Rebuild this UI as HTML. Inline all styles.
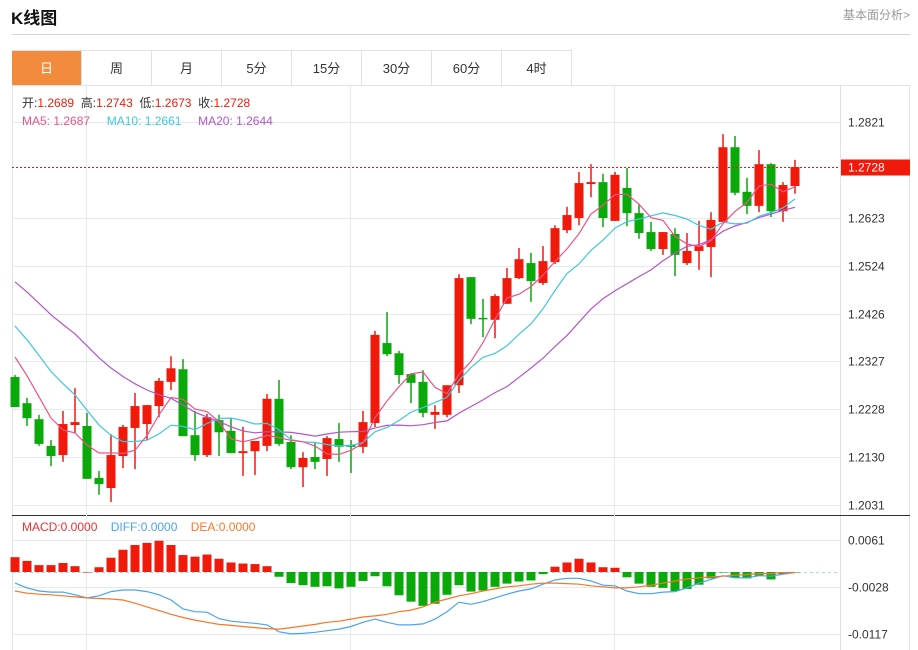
<!DOCTYPE html>
<html><head><meta charset="utf-8"><style>
body{margin:0;width:918px;height:650px;background:#fff;font-family:"Liberation Sans","Noto Sans CJK SC",sans-serif;overflow:hidden;position:relative}
.title{position:absolute;left:11px;top:4px;font-size:17px;font-weight:bold;color:#111}
.more{position:absolute;right:8px;top:6px;font-size:12px;color:#999}
.hr{position:absolute;left:12px;top:34px;width:898px;height:1px;background:#d5d5d5}
.tabs{position:absolute;left:12px;top:50px;height:35px;display:flex;border-top:1px solid #dde2e8}
.tab{width:69px;height:35px;border-right:1px solid #dde2e8;text-align:center;line-height:35px;font-size:13px;color:#333}
.tab.on{background:#f28c3c;color:#fff}
#chart text{white-space:pre}
</style></head><body>
<div class="title">K线图</div>
<div class="more">基本面分析&gt;</div>
<div class="hr"></div>
<div class="tabs">
<div class="tab on">日</div>
<div class="tab">周</div>
<div class="tab">月</div>
<div class="tab">5分</div>
<div class="tab">15分</div>
<div class="tab">30分</div>
<div class="tab">60分</div>
<div class="tab">4时</div>
</div>
<svg id="chart" width="918" height="650" style="position:absolute;left:0;top:0"></svg>
<script>
const opens=[1.2295,1.2241,1.2208,1.2153,1.2134,1.2196,1.2194,1.2087,1.2066,1.2132,1.2190,1.2198,1.2235,1.2285,1.2311,1.2175,1.2134,1.2206,1.2184,1.2138,1.2142,1.2153,1.2250,1.2161,1.2109,1.2130,1.2126,1.2167,1.2155,1.2151,1.2200,1.2365,1.2344,1.2301,1.2285,1.2217,1.2217,1.2278,1.2501,1.2417,1.2413,1.2446,1.2499,1.2530,1.2489,1.2532,1.2598,1.2623,1.2693,1.2697,1.2617,1.2685,1.2633,1.2594,1.2559,1.2590,1.2530,1.2555,1.2563,1.2615,1.2769,1.2677,1.2648,1.2734,1.2637,1.2689];
const highs=[1.2299,1.2252,1.2217,1.2165,1.2225,1.2272,1.2221,1.2101,1.2177,1.2196,1.2262,1.2237,1.2293,1.2338,1.2332,1.2225,1.2219,1.2217,1.2210,1.2192,1.2163,1.2260,1.2289,1.2175,1.2140,1.2161,1.2173,1.2200,1.2165,1.2225,1.2390,1.2429,1.2349,1.2303,1.2309,1.2237,1.2278,1.2507,1.2501,1.2456,1.2466,1.2520,1.2561,1.2551,1.2565,1.2608,1.2646,1.2718,1.2734,1.2714,1.2718,1.2726,1.2652,1.2615,1.2594,1.2602,1.2592,1.2617,1.2635,1.2796,1.2792,1.2706,1.2763,1.2736,1.2697,1.2743];
const lows=[1.2233,1.2194,1.2153,1.2111,1.2120,1.2179,1.2085,1.2052,1.2037,1.2107,1.2105,1.2165,1.2212,1.2268,1.2173,1.2122,1.2130,1.2132,1.2138,1.2091,1.2093,1.2142,1.2153,1.2105,1.2068,1.2105,1.2091,1.2120,1.2097,1.2138,1.2192,1.2338,1.2281,1.2241,1.2212,1.2188,1.2212,1.2262,1.2404,1.2377,1.2375,1.2446,1.2497,1.2450,1.2485,1.2528,1.2592,1.2608,1.2666,1.2604,1.2617,1.2606,1.2580,1.2555,1.2547,1.2503,1.2526,1.2516,1.2501,1.2615,1.2670,1.2631,1.2635,1.2625,1.2615,1.2673];
const closes=[1.2233,1.2210,1.2157,1.2132,1.2198,1.2202,1.2085,1.2074,1.2134,1.2192,1.2235,1.2237,1.2287,1.2313,1.2173,1.2134,1.2212,1.2181,1.2138,1.2142,1.2163,1.2250,1.2157,1.2109,1.2128,1.2120,1.2169,1.2151,1.2151,1.2202,1.2382,1.2342,1.2299,1.2283,1.2221,1.2223,1.2278,1.2499,1.2415,1.2415,1.2462,1.2499,1.2538,1.2493,1.2534,1.2602,1.2629,1.2695,1.2697,1.2623,1.2712,1.2633,1.2592,1.2559,1.2594,1.2547,1.2555,1.2565,1.2619,1.2769,1.2675,1.2648,1.2734,1.2637,1.2691,1.2728];
const priorCloses=[1.2629,1.2619,1.2608,1.2598,1.2588,1.2578,1.2567,1.2555,1.2545,1.2534,1.2495,1.2479,1.2464,1.2450,1.2433,1.2402,1.2375,1.2351,1.2320];
const macdHist=[0.0028,0.0021,0.0013,0.0013,0.0017,0.0011,0.0000,0.0009,0.0027,0.0042,0.0051,0.0055,0.0059,0.0051,0.0032,0.0029,0.0033,0.0025,0.0018,0.0016,0.0015,0.0011,-0.0009,-0.0021,-0.0025,-0.0028,-0.0027,-0.0031,-0.0028,-0.0017,-0.0008,-0.0027,-0.0044,-0.0056,-0.0064,-0.0060,-0.0043,-0.0025,-0.0037,-0.0035,-0.0028,-0.0022,-0.0018,-0.0016,-0.0004,0.0010,0.0018,0.0025,0.0018,0.0009,0.0008,-0.0010,-0.0022,-0.0028,-0.0030,-0.0036,-0.0032,-0.0024,-0.0012,-0.0001,-0.0011,-0.0012,-0.0007,-0.0014,-0.0004,-0.0001];
const diffLine=[-0.0021,-0.0030,-0.0036,-0.0038,-0.0038,-0.0043,-0.0049,-0.0045,-0.0037,-0.0034,-0.0034,-0.0037,-0.0043,-0.0053,-0.0070,-0.0075,-0.0076,-0.0088,-0.0093,-0.0095,-0.0097,-0.0100,-0.0113,-0.0117,-0.0116,-0.0114,-0.0111,-0.0108,-0.0103,-0.0095,-0.0089,-0.0095,-0.0100,-0.0100,-0.0098,-0.0089,-0.0075,-0.0057,-0.0061,-0.0056,-0.0049,-0.0042,-0.0036,-0.0032,-0.0023,-0.0015,-0.0012,-0.0012,-0.0017,-0.0025,-0.0026,-0.0036,-0.0041,-0.0041,-0.0038,-0.0037,-0.0030,-0.0021,-0.0014,-0.0007,-0.0011,-0.0011,-0.0007,-0.0008,-0.0004,-0.0001];
const deaLine=[-0.0036,-0.0040,-0.0042,-0.0043,-0.0045,-0.0047,-0.0049,-0.0050,-0.0051,-0.0053,-0.0059,-0.0066,-0.0073,-0.0080,-0.0086,-0.0091,-0.0095,-0.0099,-0.0101,-0.0103,-0.0105,-0.0107,-0.0108,-0.0105,-0.0102,-0.0099,-0.0095,-0.0093,-0.0089,-0.0085,-0.0083,-0.0080,-0.0075,-0.0072,-0.0066,-0.0057,-0.0051,-0.0045,-0.0041,-0.0036,-0.0032,-0.0028,-0.0026,-0.0023,-0.0021,-0.0021,-0.0022,-0.0023,-0.0026,-0.0028,-0.0030,-0.0030,-0.0028,-0.0025,-0.0021,-0.0017,-0.0013,-0.0011,-0.0009,-0.0008,-0.0006,-0.0005,-0.0003,-0.0003,-0.0001,-0.0001];
const priceTicks=["1.2821","1.2623","1.2524","1.2426","1.2327","1.2228","1.2130","1.2031"];
const macdTicks=["0.0061","-0.0028","-0.0117"];
const lastPrice=1.2728;

const svg=document.getElementById('chart');
const NS='http://www.w3.org/2000/svg';
function mk(t,a,name){const e=document.createElementNS(NS,t);for(const k in a)e.setAttribute(k,a[k]);


svg.appendChild(e);return e;}
const xOf=i=>15+i*12;
const yP=p=>122+(1.2821-p)/0.0790*383;
const yM=v=>572-v/0.000189;
const UP='#f01a0a',DN='#0aa90a';

mk('line',{x1:12.5,y1:85,x2:12.5,y2:650,stroke:'#dde2e8'},'chart-left-border');
mk('line',{x1:909.5,y1:85,x2:909.5,y2:650,stroke:'#dde2e8'},'chart-right-border');
mk('line',{x1:12,y1:85.5,x2:910,y2:85.5,stroke:'#dde2e8'},'chart-top-border');
mk('line',{x1:840.5,y1:85,x2:840.5,y2:650,stroke:'#dde2e8'},'price-axis-line');
mk('line',{x1:12,y1:515.5,x2:910,y2:515.5,stroke:'#333'},'panel-divider');
[86,350,614].forEach(x=>{mk('line',{x1:x+.5,y1:85,x2:x+.5,y2:650,stroke:'#e3eaf0'},'vertical-gridline');});
priceTicks.forEach(t=>{const y=Math.round(yP(+t))+.5;
mk('line',{x1:12,y1:y,x2:840,y2:y,stroke:'#e3eaf0'},'price-gridline');
const tx=mk('text',{x:848,y:y+4,'font-size':12,fill:'#333'},'price-tick-label');tx.textContent=t;});
macdTicks.forEach(t=>{const y=Math.round(yM(+t))+.5;
mk('line',{x1:12,y1:y,x2:840,y2:y,stroke:'#e3eaf0'},'macd-gridline');
const tx=mk('text',{x:848,y:y+4,'font-size':12,fill:'#333'},'macd-tick-label');tx.textContent=t;});
mk('line',{x1:12,y1:yM(0)+.5,x2:840,y2:yM(0)+.5,stroke:'#a8d8ea','stroke-dasharray':'3,3'},'macd-zero-line');

const all=priorCloses.concat(closes);
function ma(n){return closes.map((c,i)=>{let s=0;const k=i+priorCloses.length;for(let j=k-n+1;j<=k;j++)s+=all[j];return s/n;});}
function poly(vals,yf,col,name){mk('polyline',{points:vals.map((v,i)=>xOf(i)+','+yf(v).toFixed(1)).join(' '),fill:'none',stroke:col,'stroke-width':1.2},name);}

closes.forEach((c,i)=>{const o=opens[i],up=c>=o,col=up?UP:DN,x=xOf(i);
mk('line',{x1:x,y1:yP(highs[i]),x2:x,y2:yP(lows[i]),stroke:col,'stroke-width':1.5},'candle-wick');
const t=yP(Math.max(o,c)),b=yP(Math.min(o,c));
mk('rect',{x:x-4.5,y:t,width:9,height:Math.max(1.5,b-t),fill:col},'candle-body');});
poly(ma(20),yP,'#b455c9','ma20-line');
poly(ma(10),yP,'#3fc7dd','ma10-line');
poly(ma(5),yP,'#ef5286','ma5-line');

const ly=Math.round(yP(lastPrice))+.5;
mk('line',{x1:12,y1:ly,x2:840,y2:ly,stroke:'#f01a0a','stroke-dasharray':'2,2'},'last-price-line');
mk('rect',{x:841,y:ly-8,width:69,height:16,fill:'#f01a0a'},'last-price-tag');
const lt=mk('text',{x:848,y:ly+4,'font-size':12,fill:'#fff'},'last-price-label');lt.textContent=lastPrice.toFixed(4);

macdHist.forEach((v,i)=>{const y0=yM(0),y1=yM(v);
mk('rect',{x:xOf(i)-4.5,y:Math.min(y0,y1),width:9,height:Math.max(0.5,Math.abs(y1-y0)),fill:v>=0?UP:DN},'macd-bar');});
poly(diffLine,yM,'#4aa3f0','diff-line');
poly(deaLine,yM,'#f7772a','dea-line');

function txt(x,y,parts,name){const t=mk('text',{x:x,y:y,'font-size':12},name);
parts.forEach(p=>{const s=document.createElementNS(NS,'tspan');s.setAttribute('fill',p[1]);s.textContent=p[0];t.appendChild(s);});}
txt(22,107,[['开:','#333'],['1.2689','#f01a0a'],['  高:','#333'],['1.2743','#f01a0a'],['  低:','#333'],['1.2673','#f01a0a'],['  收:','#333'],['1.2728','#f01a0a']],'ohlc-legend');
txt(22,125,[['MA5: 1.2687','#ef5286'],['     MA10: 1.2661','#3fc7dd'],['     MA20: 1.2644','#b455c9']],'ma-legend');
txt(22,531,[['MACD:0.0000','#f03030'],['    DIFF:0.0000','#4aa3f0'],['    DEA:0.0000','#f7772a']],'macd-legend');
</script>
</body></html>
